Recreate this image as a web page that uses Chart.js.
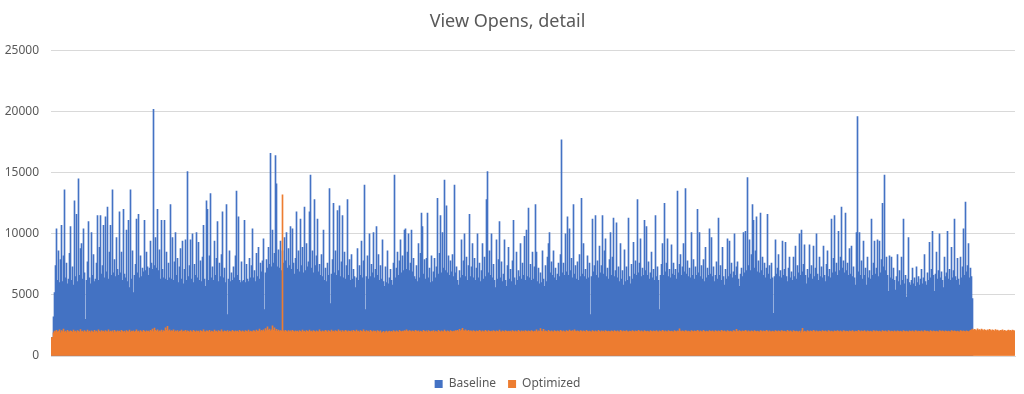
<!DOCTYPE html>
<html>
<head>
<meta charset="utf-8">
<script src="https://cdn.jsdelivr.net/npm/chart.js@4.4.1/dist/chart.umd.min.js"></script>
<style>
html,body{margin:0;padding:0;background:#fff;}
#wrap{width:1024px;height:394px;}
</style>
</head>
<body>
<div id="wrap"><canvas id="c" width="1024" height="394"></canvas></div>
<script>
// Baseline: one value per category (categories 1..922)
const baseline = [
1500,1500,3200,5200,7400,10400,6200,8600,6000,7900, // 1
10700,6100,8200,13600,6400,7600,5900,6300,8400,10600,
6200,7300,5800,12700,6500,11600,6100,14500,6600,8800,
9200,6300,10400,6800,3000,6200,7700,11000,6400,5900,
10100,6600,8300,6100,6300,7600,11500,6200,8900,11500,
6700,7400,10700,6400,11400,6900,12200,6300,8500,10700,
6600,13600,6800,7900,6500,9700,7100,6600,11800,6800,
8500,6200,12000,6700,6400,10300,6100,11100,5600,13600,
6300,8600,5200,6600,7500,11200,6800,11600,6400,8200,
6500,7200,6900,11100,7000,8500,7300,6600,7200,9400,
7600,7100,20200,7400,9700,7200,12000,7000,8700,6300, // 101
11100,7100,6400,11100,6300,8500,6200,7600,6400,12400,
6300,9700,6200,7700,10100,6600,8000,6000,7300,8800,
6300,9400,5900,7100,9500,6200,15100,6500,7400,9500,
6300,10000,6000,7500,6600,10100,6400,9300,6200,7800,
6100,8100,10700,6300,5700,12700,12000,6200,8200,13300,
6400,7300,6200,9400,6600,8000,11000,6100,7600,6500,
8300,11800,6400,7200,6000,12400,3400,6300,8600,6100,
6800,6200,7300,6400,8200,13500,6600,11400,6200,6000,
7700,6100,6200,11100,6000,7500,6300,6100,8000,6400,
7400,10400,6400,7000,6100,8400,6500,8900,6300,7600, // 201
6900,7800,9600,3800,6800,7900,7200,8900,7500,16600,
7300,10300,7600,8400,16400,14100,7300,8700,7200,9400,
7000,8600,7600,9700,7800,10100,7200,8800,7400,10600,
7100,10400,7600,6700,8000,11800,7100,8600,6900,11200,
7400,8900,6800,12200,7000,9200,7300,7700,11800,14800,
7200,8600,6800,12800,7400,8200,11200,6900,7500,6600,
8300,6500,10300,6200,7200,6100,7600,6600,13700,4300,
6700,7900,12500,6800,8600,6600,11900,7000,12300,6500,
7700,11500,6400,8500,6300,7400,12800,6600,7900,6200,
8300,6300,7100,6500,5600,6400,8800,6200,7400,6600, // 301
9400,6400,7800,14000,3800,6500,8200,6300,10000,6500,
7500,6800,10100,6400,7100,10600,6600,8300,6200,7400,
6300,9500,6100,5700,7300,6000,8600,5900,6400,7100,
6200,5800,7600,14800,6400,7200,8500,6600,7800,9500,
6800,8200,7000,10300,10400,7100,8500,10000,7000,7600,
10300,6900,8000,6500,6300,7400,6100,9200,6400,8400,
11700,10600,6700,7900,6300,8000,11700,6400,7200,6000,
8200,6100,6900,8000,6400,7300,12900,6700,8400,11500,
6800,10100,7200,14400,7000,12300,6800,8200,6600,7800,
6900,8300,6500,14000,6800,7300,6200,5800,7000,6400, // 401
9500,6600,7800,10000,6500,8100,6200,7400,11600,6500,
7300,9200,6400,8000,6200,7200,10000,6400,7600,6100,
7000,9200,6300,8100,6500,12800,15100,6800,8600,6600,
10000,6400,7500,6200,5600,9500,6300,7900,11000,6400,
7700,6100,6700,9500,6200,5700,7400,8900,6300,7100,
6100,7800,11100,6400,5800,8500,6200,7000,6500,9200,
6300,7600,6600,9800,6200,10300,6500,12100,6400,7500,
6200,8500,6300,7300,12400,8500,6100,7200,5900,6800,
6000,8600,6300,5700,7400,6100,8100,9200,10100,6800,
7700,6600,8600,6400,7200,6200,6700,7600,6500,8300, // 501
17700,6800,7600,6600,10000,6900,11400,6600,10400,7000,
8000,6400,12400,6700,7400,6300,7700,6200,8300,6500,
12900,6700,9200,6500,7100,6300,8200,6400,7600,3400,
6500,11200,6900,7400,11500,6600,7800,6400,9000,6800,
7400,11500,6700,8600,9600,6500,7200,6300,7900,10100,
6600,8100,11300,6500,7000,10900,6400,7300,6100,9200,
6300,7000,5800,8700,6100,7300,6200,11300,6500,5900,
7500,6300,9300,6700,7800,6600,12800,6800,7600,9600,
6500,7200,6600,11100,7000,10600,6600,7700,6300,6800,
8500,6400,7100,6200,11500,6500,7300,6200,3800,6600, // 601
7500,9200,6600,12500,6900,7600,9600,6500,7100,6400,
9100,6700,7600,6600,7100,6300,13500,6800,7500,8300,
6600,7300,9200,6900,13700,6700,7800,6500,7200,6400,
10100,6600,7900,6300,7300,6600,12000,6800,10100,6500,
7400,6300,7900,6100,8900,6400,7200,6600,10400,6700,
9700,6500,7300,6100,6600,7700,6300,11300,6600,7400,
6200,8900,6500,5800,7100,6300,9600,6500,9400,6700,
7600,6400,6900,10000,6600,7300,7700,6300,5700,6700,
7200,6500,10100,6800,10200,7000,14600,7400,9500,7000,
8300,12400,11100,7200,8600,11400,6900,7800,6800,11700, // 701
7000,8100,6600,7600,6400,7200,11600,6700,7400,6300,
7600,6400,3500,6500,9500,6700,7200,8300,6500,7000,
6400,9400,6600,7100,9300,6500,6100,7200,8100,6400,
6900,6200,8100,6500,9000,6300,7400,6800,10000,6600,
10300,6900,7500,9100,6600,5900,7100,6400,9100,6700,
7400,6300,9000,6500,7200,10000,6700,6200,8100,6500,
7300,6400,9000,6600,6100,7500,8600,6500,7100,6400,
11200,6800,8000,11500,6900,7600,6600,10200,7000,8100,
12200,7200,7800,6800,11700,7000,7600,6600,8800,6700,
9000,6500,7300,6400,5800,10100,19600,6900,10100,6600, // 801
7800,6300,9400,6600,7200,5800,8100,6400,7000,6300,
11200,6600,7600,9400,6700,7200,9500,6500,9400,6800,
7900,12500,7300,14800,7000,8100,6600,5300,8200,6400,
8100,6300,7200,6200,5400,6500,8300,6100,7000,5800,
8100,6200,11200,5900,6600,4800,6300,9700,6000,5800,
6200,7200,5900,6400,5700,7300,6000,6500,5800,6300,
7100,5900,6400,8300,6100,5800,6800,6200,9300,6400,
7100,10200,6600,5300,6700,8500,6300,7000,10000,6400,
6900,6200,5600,8100,6500,6800,10200,6300,7100,6200,
8900,6400,7000,11200,6500,6200,8000,6300,5800,8100, // 901
6400,7300,10400,6600,12600,6900,7400,9200,6400,7200,
6500,4700
];

// Optimized: one value per category (categories 1..964)
const optimized = [
1500,1500,1900,2050,1980,2100,1950,2020,2150,1900,2080,1990,2200,1960,2040,1920,2110,2000,1970,2060, // 1
2010,1940,2130,1980,2050,1910,2090,2020,1960,2170,1990,2040,1930,2080,2000,1950,2120,1980,2030,1920,
2060,2000,1940,2100,1970,2050,1920,2140,2010,1960,2080,1990,2030,1940,2090,2000,1970,2150,1950,2040,
1980,2060,1920,2100,2000,1950,2070,1990,2030,1930,2110,2010,1960,2050,1920,2090,2000,1980,2130,1940,
2040,1990,2070,1930,2020,2150,1970,2050,1910,2080,2000,1960,2100,2020,1940,2060,1990,2030,1950,2110,
2050,2200,2000,2280,2100,2010,2150,1970,2060,2000,2120,1950,2080,2020,2310,2100,2420,2050,2150,1990, // 101
2080,2010,2140,1960,2060,2000,2090,1940,2050,2010,2130,1970,2040,1990,2100,1950,2060,2020,1930,2080,
2000,1960,2110,2020,1940,2070,1990,2050,1920,2090,2010,1970,2140,2000,1950,2060,2030,1980,2100,1940,
2050,2000,1960,2120,1990,2040,1930,2080,2010,1970,2150,2000,1950,2060,2020,1980,2090,1940,2040,2000,
1970,2110,2020,1950,2070,1990,2030,1930,2100,2010,1960,2060,2000,1940,2080,2020,1980,2130,1950,2050,
2000,1970,2090,2030,1960,2120,2010,2050,2200,1990,2100,2040,2150,2000,2250,2080,2380,2100,2200,2050, // 201
2150,2460,2100,2300,2050,2180,2020,2120,1990,2090,2040,13200,2060,1980,2100,2020,1950,2080,2000,2060,
1970,2110,2010,1950,2070,2000,2040,1930,2090,2020,1960,2130,1990,2050,1940,2080,2010,1970,2120,2000,
2050,1960,2090,2010,1940,2070,2000,1980,2140,2020,1950,2060,2000,1970,2100,2030,1940,2080,2010,1960,
2120,2000,2050,1950,2090,2020,1980,2150,2010,2060,1940,2080,2000,1970,2110,2030,1960,2070,2010,1990,
2060,1950,2100,2020,1980,2130,2000,2050,1940,2090,2010,1970,2140,2020,1960,2080,2000,2040,1930,2100, // 301
2020,1960,2070,1990,2030,1920,2090,2010,1950,2060,1880,1940,2020,1900,1970,2050,1920,1990,2040,1950,
2010,1930,2080,1990,1950,2060,2000,1940,2100,2020,1970,2050,1990,2080,2020,2150,2040,1990,2090,2030,
1980,2060,2010,1950,2100,2030,1990,2070,1940,2040,2000,1960,2110,2020,1980,2060,1930,2090,2010,1970,
2050,1990,2080,1940,2030,2000,1960,2100,2020,1950,2070,2000,1980,2130,2020,1960,2060,2010,1940,2090,
2010,1970,2050,1990,2080,2030,2100,2000,2180,2050,2120,2260,2090,2040,2150,2060,2010,2110,2000,2070, // 401
2030,1980,2090,2020,1960,2070,2010,1990,2100,2030,1950,2060,2000,1970,2110,2020,1960,2080,2010,1990,
2050,1970,2090,2020,1950,2060,2010,1980,2120,2000,1960,2070,2020,1940,2090,2010,1970,2050,1990,2030,
1960,2080,2010,1950,2060,2000,1980,2110,2020,1960,2070,2000,2040,1950,2090,2020,1980,2060,2010,1970,
2080,2010,1960,2050,2000,2140,1970,2060,2010,2250,2050,2000,2180,1990,2070,2020,1960,2100,2010,1980,
2060,2000,1950,2090,2020,1970,2070,2010,1960,2110,2030,1980,2060,2000,1950,2080,2020,1990,2130,2040, // 501
2010,2080,2000,2150,2040,1990,2070,2010,1960,2090,2030,1980,2060,2010,1950,2100,2020,1970,2050,2000,
1960,2080,2010,1950,2070,2000,1980,2110,2020,1960,2060,2000,2040,1940,2090,2010,1970,2050,2000,1980,
2070,2010,1960,2090,2020,1980,2060,2000,1950,2100,2030,1970,2060,2010,1990,2080,2000,1960,2050,2020,
1980,2090,2010,1960,2070,2020,1990,2110,2030,1970,2060,2000,1950,2080,2020,1980,2050,2000,1960,2090,
2010,1970,2060,2020,1990,2080,2000,1950,2070,2010,1980,2100,2030,1960,2060,2000,1970,2090,2020,1990, // 601
2050,2000,1960,2080,2020,1980,2060,2010,2230,2040,1990,2070,2010,1960,2090,2030,1980,2050,2000,1950,
2080,2010,1970,2060,2020,1990,2100,2030,1960,2070,2000,1980,2110,2020,1960,2050,2000,1970,2080,2010,
1990,2060,2000,1950,2090,2020,1980,2070,2010,1960,2100,2030,1990,2060,2000,1950,2080,2020,1980,2050,
2000,1960,2090,2030,1980,2190,2050,2000,2080,2020,1970,2060,2010,1990,2100,2030,1960,2070,2000,1980,
2060,2010,1960,2090,2020,1980,2050,2000,1950,2080,2030,1970,2060,2010,1990,2110,2040,1960,2070,2000, // 701
1980,2050,2000,1960,2090,2020,1980,2060,2010,1950,2080,2030,1990,2050,2000,1960,2100,2020,1980,2060,
2000,1940,2080,2010,1970,2050,2000,1960,2030,1900,2070,2260,1960,2040,2000,1950,2080,2020,1970,2060,
2010,1980,2100,2030,1960,2070,2000,1980,2050,2010,1950,2080,2020,1990,2060,2000,1960,2090,2030,1980,
2050,2000,1960,2070,2020,1990,2080,2010,1970,2060,2000,1950,2090,2030,1980,2050,2010,1960,2070,2020,
1990,2080,2000,1960,2050,2020,1980,2100,2030,1970,2060,2010,1990,2080,2000,1950,2070,2020,1980,2050, // 801
2000,1960,2090,2030,1980,2060,2010,1970,2050,2000,1950,2080,2020,1990,2060,2000,1960,2090,2030,1980,
2050,2010,1960,2070,2000,1980,2060,2020,1970,2040,1990,1950,2080,2010,1980,2050,2000,1960,2070,2020,
1990,2060,2000,1950,2080,2030,1980,2050,2010,1970,2060,2000,1960,2090,2030,1990,2050,2000,1960,2080,
2020,1980,2060,2010,1970,2050,2000,1950,2090,2030,1990,2060,2010,1960,2070,2020,1980,2050,2000,1960,
2080,2030,1990,2060,2010,1970,2050,2000,1960,2090,2040,1990,2060,2020,1980,2070,2010,1970,2050,2100, // 901
2150,2200,2100,2180,2150,2080,2230,2120,2160,2090,2200,2140,2080,2170,2110,2060,2150,2090,2180,2120,
2070,2140,2100,2050,2160,2090,2120,2060,2030,2100,2080,2150,2040,2110,2070,2020,2090,2130,2060,2100,
2050,2120,2080,2060
];

const seriesNames = ['Baseline', 'Optimized'];
const seriesColors = ['#4472C4', '#ED7D31'];
const yTicks = [0, 5000, 10000, 15000, 20000, 25000];
const chartTitle = 'View Opens, detail';
// categories are unlabeled sample positions 1..N
const categories = optimized.map((_, i) => String(i + 1));

const textColor = '#595959';
const FONT = '"Noto Sans", "Open Sans", sans-serif';

new Chart(document.getElementById('c'), {
  type: 'bar',
  data: {
    labels: categories,
    datasets: [
      { label: seriesNames[0], data: baseline, backgroundColor: seriesColors[0], order: 2 },
      { label: seriesNames[1], data: optimized, backgroundColor: seriesColors[1], order: 1 }
    ]
  },
  options: {
    responsive: false,
    animation: false,
    devicePixelRatio: 1,
    layout: { padding: { left: 0, right: 9, top: 0, bottom: -6 } },
    datasets: { bar: { barPercentage: 1, categoryPercentage: 1, grouped: false, borderWidth: 0 } },
    scales: {
      x: {
        grid: { display: false },
        ticks: { display: false },
        border: { display: true, color: '#d9d9d9' },
        afterFit: (s) => { s.height = 10; }
      },
      y: {
        min: 0, max: 25000,
        afterBuildTicks: (s) => { s.ticks = yTicks.map(v => ({ value: v })); },
        afterFit: (s) => { s.width = 51; },
        ticks: { color: textColor, font: { family: FONT, size: 12 }, padding: 12, callback: (v) => String(v) },
        grid: { color: '#d9d9d9', drawTicks: false },
        border: { display: false }
      }
    },
    plugins: {
      tooltip: { enabled: false },
      title: {
        display: true, text: chartTitle, color: textColor,
        font: { family: FONT, size: 18, weight: 'normal' },
        padding: { top: 11, bottom: 18 }
      },
      legend: {
        position: 'bottom',
        labels: {
          boxWidth: 8, boxHeight: 8, color: textColor,
          font: { family: FONT, size: 12 }, padding: 12,
          sort: (a, b) => a.datasetIndex - b.datasetIndex
        }
      }
    }
  }
});
</script>
</body>
</html>
